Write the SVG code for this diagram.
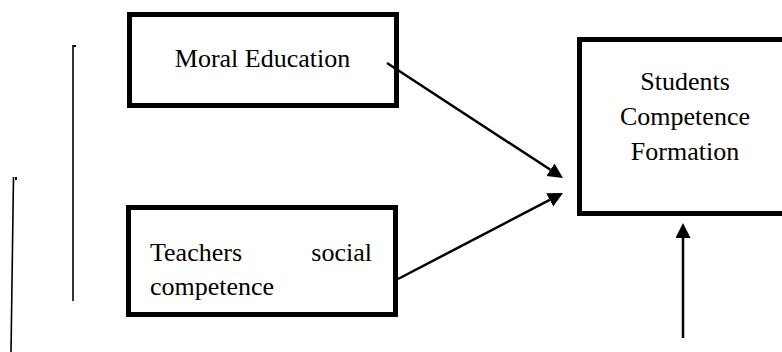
<svg xmlns="http://www.w3.org/2000/svg" width="782" height="352" viewBox="0 0 782 352">
<style>
.box{fill:#fff;stroke:#000;stroke-width:5;stroke-linejoin:miter}
.t{font-family:"Liberation Serif","Times New Roman",serif;font-size:26px;fill:#000}
.c{stroke:#000;stroke-width:2.5;fill:none}
.rule{stroke:#000;stroke-width:1.6;fill:none}
</style>
<defs>
<marker id="ah" markerUnits="userSpaceOnUse" markerWidth="16" markerHeight="16" refX="0" refY="7.5" orient="auto" viewBox="0 0 16 16">
<path d="M0,0 L15,7.5 L0,15 Z" fill="#000"/>
</marker>
</defs>
<rect width="782" height="352" fill="#fff"/>
<g id="side-rules">
<line class="rule" x1="73" y1="45" x2="73" y2="301"/>
<rect x="73" y="45" width="3" height="2" fill="#000"/>
<line class="rule" x1="13.5" y1="177" x2="11" y2="352"/>
<rect x="15" y="177" width="2" height="3" fill="#000"/>
</g>
<g id="moral-education">
<rect class="box" x="129.5" y="14.5" width="267" height="91"/>
<text class="t" x="262.5" y="67" text-anchor="middle">Moral Education</text>
</g>
<g id="teachers-social-competence">
<rect class="box" x="128.5" y="207.5" width="267" height="107"/>
<text class="t" x="150" y="261">Teachers</text>
<text class="t" x="372" y="261" text-anchor="end">social</text>
<text class="t" x="150" y="295">competence</text>
</g>
<g id="students-competence-formation">
<rect class="box" x="579.5" y="39.5" width="230" height="174"/>
<text class="t" x="685" y="90" text-anchor="middle">Students</text>
<text class="t" x="685" y="125" text-anchor="middle">Competence</text>
<text class="t" x="685" y="160" text-anchor="middle">Formation</text>
</g>
<g id="connectors">
<line class="c" x1="387" y1="63" x2="550.4" y2="169.8" marker-end="url(#ah)"/>
<line class="c" x1="398" y1="279" x2="549.7" y2="199.9" marker-end="url(#ah)"/>
<line class="c" x1="683" y1="338" x2="683" y2="238" marker-end="url(#ah)"/>
</g>
</svg>
